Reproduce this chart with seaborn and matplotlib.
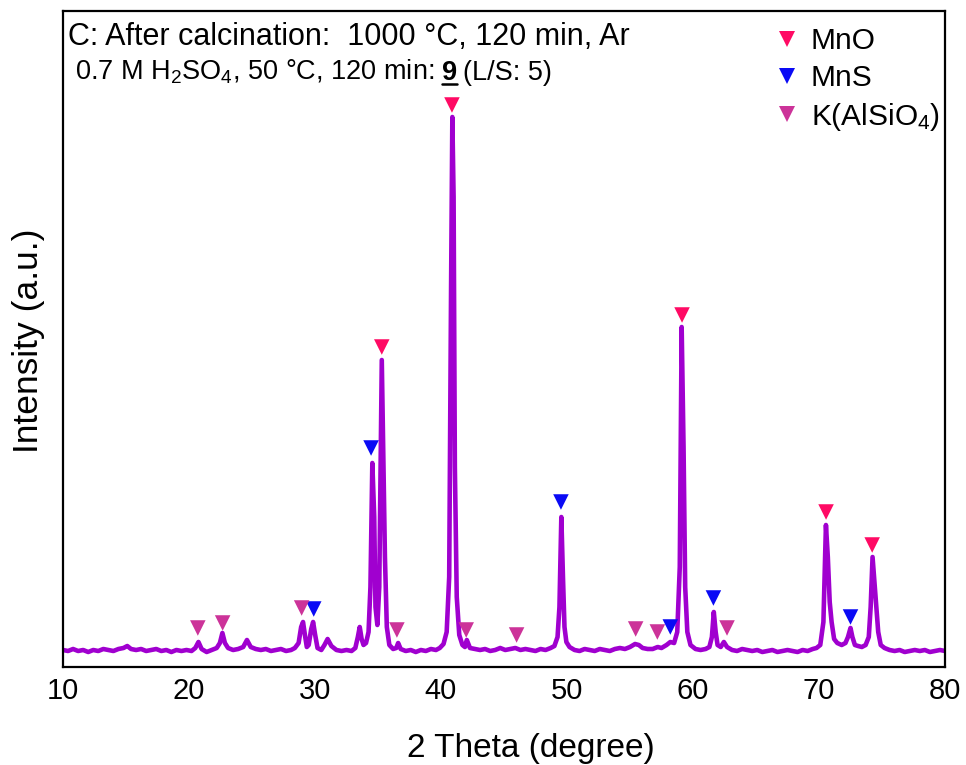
import matplotlib
matplotlib.use("Agg")
import matplotlib.pyplot as plt
from matplotlib.lines import Line2D
from matplotlib import font_manager
import seaborn as sns
import pandas as pd

# ---------------- data ----------------
two_theta = [10.0, 10.4, 10.8, 11.2, 11.6, 12.0, 12.4, 12.8, 13.2, 13.6, 14.0, 14.4, 14.8, 15.1, 15.4,
             15.8, 16.2, 16.6, 17.0, 17.4, 17.8, 18.2, 18.6, 19.0, 19.4, 19.8, 20.2, 20.5, 20.75, 21.0,
             21.4, 21.8, 22.2, 22.45, 22.65, 22.85, 23.1, 23.5, 23.9, 24.3, 24.6, 24.9, 25.3, 25.7, 26.1,
             26.5, 26.9, 27.3, 27.7, 28.1, 28.4, 28.7, 28.9, 29.05, 29.2, 29.35, 29.5, 29.7, 29.85, 30.0,
             30.2, 30.5, 30.75, 31.0, 31.3, 31.7, 32.1, 32.5, 32.9, 33.2, 33.4, 33.55, 33.7, 33.85, 34.05,
             34.25, 34.4, 34.55, 34.7, 34.8, 34.95, 35.1, 35.3, 35.45, 35.55, 35.7, 35.9, 36.2, 36.45, 36.6,
             36.8, 37.2, 37.6, 38.0, 38.4, 38.8, 39.2, 39.6, 39.9, 40.2, 40.45, 40.65, 40.8, 40.9, 41.0,
             41.1, 41.25, 41.45, 41.7, 41.9, 42.05, 42.3, 42.7, 43.1, 43.5, 43.9, 44.3, 44.7, 45.1, 45.5,
             45.9, 46.3, 46.7, 47.1, 47.5, 47.9, 48.3, 48.7, 49.0, 49.25, 49.4, 49.55, 49.68, 49.8, 49.95,
             50.2, 50.6, 51.0, 51.4, 51.8, 52.2, 52.6, 53.0, 53.4, 53.8, 54.2, 54.6, 55.0, 55.4, 55.7,
             56.0, 56.4, 56.8, 57.2, 57.5, 57.9, 58.2, 58.5, 58.75, 58.95, 59.1, 59.25, 59.38, 59.55, 59.8,
             60.2, 60.6, 61.0, 61.3, 61.5, 61.65, 61.8, 61.95, 62.2, 62.45, 62.7, 63.1, 63.5, 63.9, 64.3,
             64.7, 65.1, 65.5, 65.9, 66.3, 66.7, 67.1, 67.5, 67.9, 68.3, 68.7, 69.1, 69.5, 69.8, 70.1,
             70.35, 70.55, 70.7, 70.85, 71.0, 71.2, 71.45, 71.8, 72.1, 72.3, 72.5, 72.65, 72.85, 73.1, 73.4,
             73.7, 73.95, 74.1, 74.25, 74.4, 74.55, 74.7, 74.9, 75.2, 75.6, 76.0, 76.4, 76.8, 77.2, 77.6,
             78.0, 78.4, 78.8, 79.2, 79.6, 80.0]
intensity = [17, 16, 18, 16, 17, 15, 17, 16, 18, 17, 16, 18, 19, 21, 18,
             17, 18, 16, 17, 18, 16, 17, 15, 17, 16, 17, 16, 19, 25, 18,
             15, 17, 19, 24, 34, 24, 19, 17, 18, 20, 27, 20, 18, 17, 18,
             16, 17, 18, 16, 17, 19, 24, 40, 45, 32, 20, 22, 38, 45, 33,
             19, 17, 22, 28, 21, 17, 16, 17, 16, 19, 30, 40, 28, 22, 24,
             35, 80, 204, 150, 60, 42, 80, 307, 190, 110, 40, 22, 18, 19, 24,
             18, 16, 17, 15, 17, 16, 18, 17, 19, 23, 35, 90, 380, 550, 470,
             200, 70, 32, 22, 20, 27, 19, 18, 17, 18, 16, 17, 19, 17, 18,
             19, 17, 18, 17, 16, 18, 17, 19, 21, 30, 60, 150, 90, 40, 25,
             20, 17, 16, 18, 17, 16, 18, 17, 16, 18, 19, 18, 20, 23, 22,
             19, 18, 18, 20, 19, 22, 25, 24, 35, 100, 340, 220, 80, 35, 22,
             18, 17, 18, 20, 30, 55, 35, 22, 20, 25, 20, 17, 16, 18, 17,
             16, 17, 15, 16, 17, 15, 16, 17, 16, 15, 17, 16, 18, 19, 22,
             45, 142, 110, 65, 45, 28, 24, 22, 24, 30, 39, 30, 22, 21, 20,
             22, 30, 60, 110, 85, 60, 35, 22, 19, 17, 16, 17, 15, 16, 17,
             16, 17, 15, 16, 17, 16]

mno_pos = [35.3, 40.87, 59.13, 70.56, 74.22]
mno_int = [320, 562, 352, 155, 122]
mns_pos = [29.9, 34.45, 49.52, 58.2, 61.62, 72.5]
mns_int = [58, 219, 165, 40, 69, 50]
kal_pos = [20.7, 22.67, 28.94, 36.5, 42.0, 46.0, 55.45, 57.17, 62.7]
kal_int = [39, 44, 59, 37, 37, 32, 38, 35, 39]

phases = ["MnO", "MnS", "K(AlSiO$_4$)"]
phase_colors = ["#FF0A64", "#0A0AF5", "#CC3399"]
x_ticks = [10, 20, 30, 40, 50, 60, 70, 80]

# ---------------- style ----------------
sns.set_theme(style="white")
plt.rcParams["font.family"] = ["Liberation Sans", "DejaVu Sans"]
plt.rcParams["mathtext.fontset"] = "custom"
plt.rcParams["mathtext.rm"] = "Liberation Sans"
plt.rcParams["mathtext.it"] = "Liberation Sans:italic"
plt.rcParams["mathtext.bf"] = "Liberation Sans:bold"

names = {f.name for f in font_manager.fontManager.ttflist}
narrow = "Liberation Sans Narrow" if "Liberation Sans Narrow" in names else "Liberation Sans"
tick_size = 22.5 if narrow == "Liberation Sans Narrow" else 21

W, H = 966, 765
fig = plt.figure(figsize=(W / 100, H / 100), dpi=100)
L, R, T, B = 63, 945, 11, 667
ax = fig.add_axes([L / W, (H - B) / H, (R - L) / W, (B - T) / H])

df = pd.DataFrame({"2theta": two_theta, "I": intensity})
sns.lineplot(data=df, x="2theta", y="I", ax=ax, color="#A000CF", lw=3.3, sort=False)

for pos, val, col in [(mno_pos, mno_int, phase_colors[0]),
                      (mns_pos, mns_int, phase_colors[1]),
                      (kal_pos, kal_int, phase_colors[2])]:
    sns.scatterplot(x=pos, y=val, ax=ax, marker="v", color=col, s=125,
                    edgecolor="none", zorder=5, legend=False)

ax.set_xlim(10, 80)
ax.set_ylim(0, B - T)
ax.set_xticks(x_ticks)
ax.set_xticks([15, 25, 35, 45, 55, 65, 75], minor=True)
ax.set_yticks([])
ax.tick_params(axis="x", which="major", direction="in", length=8, width=1.5,
               labelsize=tick_size, pad=7, color="black", labelcolor="black")
ax.tick_params(axis="x", which="minor", direction="in", length=4.5, width=1.5, color="black")
for lab in ax.get_xticklabels():
    lab.set_family([narrow, "Liberation Sans"])
for s in ax.spines.values():
    s.set_visible(True)
    s.set_linewidth(1.6)
    s.set_color("black")

ax.set_xlabel("2 Theta (degree)", fontsize=24, color="black")
ax.set_ylabel("Intensity (a.u.)", fontsize=25.5, color="black")
ax.xaxis.set_label_coords((531 - L) / (R - L), -(733 - B) / (B - T))
ax.yaxis.set_label_coords(-(L - 45) / (R - L), (B - 341) / (B - T))

# legend
handles = [Line2D([], [], ls="none", marker="v", markersize=11.5, color=c, markeredgewidth=0)
           for c in phase_colors]
leg = ax.legend(handles, phases, loc="upper left", frameon=False, fontsize=21.5,
                bbox_to_anchor=((772 - L) / (R - L), 1.0 - (27 - T) / (B - T)),
                bbox_transform=ax.transAxes, handlelength=1.0, handletextpad=0.3,
                labelspacing=0.3, borderpad=0, borderaxespad=0, labelcolor="black")

# header texts
fig.text(68 / W, 1 - 45 / H, "C: After calcination:  1000 °C, 120 min, Ar",
         fontsize=22, color="black", va="baseline", ha="left")

fig.canvas.draw()
renderer = fig.canvas.get_renderer()
y2 = 1 - 80 / H
fs2 = 19.5
t1 = fig.text(75 / W, y2, r"0.7 M H$_2$SO$_4$, 50 °C, 120 min:",
              fontsize=fs2, color="black", va="baseline", ha="left")
bb1 = t1.get_window_extent(renderer)
x9 = bb1.x1 + 8
t2 = fig.text(x9 / W, y2, "9", fontsize=fs2, fontweight="bold", color="black",
              va="baseline", ha="left")
bb2 = t2.get_window_extent(renderer)
uy = y2 - 3.5 / H
fig.add_artist(Line2D([bb2.x0 / W, bb2.x1 / W], [uy, uy], color="black", lw=1.8,
                      transform=fig.transFigure))
fig.text((bb2.x1 + 6) / W, y2, "(L/S: 5)", fontsize=fs2, color="black",
         va="baseline", ha="left")

fig.savefig("out.png", dpi=100, facecolor="white")
